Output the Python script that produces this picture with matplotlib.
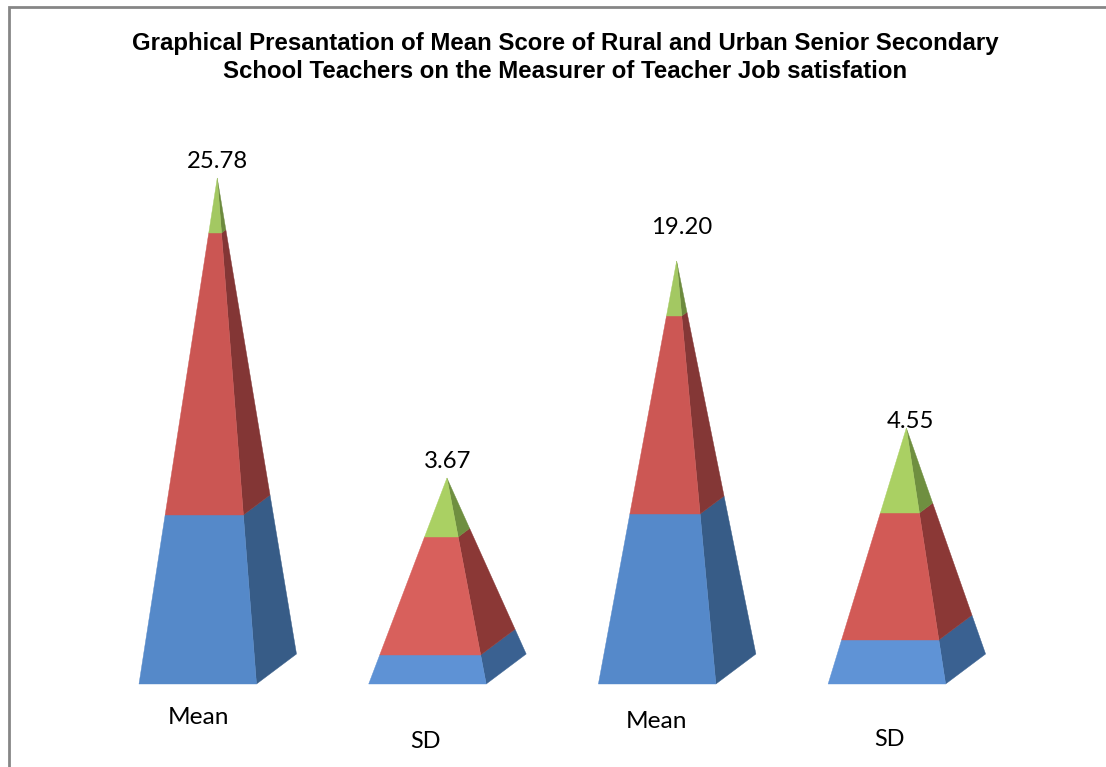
import matplotlib
matplotlib.use("Agg")
import matplotlib.pyplot as plt
from matplotlib.patches import Polygon, Rectangle

categories = ["Mean", "SD", "Mean", "SD"]
value_labels = ["25.78", "3.67", "19.20", "4.55"]
# stacked segment heights (axis units, baseline = 0)
blue_seg = [169, 29, 170, 44]
red_seg = [282, 118, 198, 127]
green_seg = [55, 59, 55, 85]

title = ("Graphical Presantation of Mean Score of Rural and Urban Senior Secondary\n"
         "School Teachers on the Measurer of Teacher Job satisfation")

W, H = 1106, 767
BASE_Y = 684       # baseline, pixels from top
LEFT = 139
STEP = 229.7
BAR_W = 117.5
DEPTH_X, DEPTH_Y = 40, 30

front = {"b": ["#5589C9", "#5E92D5", "#5589CA", "#5F93D6"],
         "r": ["#CB5653", "#D8605C", "#CC5754", "#D25A56"],
         "g": ["#A3C862", "#AAD063", "#A3C862", "#AAD063"]}
side = {"b": ["#375C87", "#3A6191", "#375C87", "#3A6191"],
        "r": ["#833635", "#8B3836", "#843736", "#8B3836"],
        "g": ["#6C8A3E", "#6F8F40", "#6C8A3E", "#6F8F40"]}

fig = plt.figure(figsize=(W / 100, H / 100), dpi=100)
ax = fig.add_axes([0, 0, 1, 1])
ax.set_xlim(0, W)
ax.set_ylim(BASE_Y - H, BASE_Y)
ax.axis("off")

# chart frame
ax.add_patch(Rectangle((9, BASE_Y - H - 5), W + 10, H - 2, fill=False,
                       edgecolor="#868686", lw=2, clip_on=True))

ax.text(565, BASE_Y - 57.5, title, ha="center", va="center", fontsize=17.3,
        fontweight="bold", family="Liberation Sans", linespacing=1.28, color="black")

label_x = [198.5, 425, 657, 889]
label_y = [-34, -58, -38, -55]
value_y = [522, 222, 457, 263]
value_x = [217, 448, 682, 910]

for i in range(len(categories)):
    x0 = LEFT + i * STEP
    x1 = x0 + BAR_W
    total = blue_seg[i] + red_seg[i] + green_seg[i]
    apex_x = (x0 + x1) / 2 + DEPTH_X / 2 - 0.5
    fl, fr = (x0, 0), (x1, 0)
    br = (x1 + DEPTH_X, DEPTH_Y)
    apex = (apex_x, total)

    def along(p, t):
        return (p[0] + (apex[0] - p[0]) * t, p[1] + (apex[1] - p[1]) * t)

    bottom = 0
    for key, seg in (("b", blue_seg[i]), ("r", red_seg[i]), ("g", green_seg[i])):
        t0 = bottom / total
        t1 = (bottom + seg) / total
        ax.add_patch(Polygon([along(fr, t0), along(br, t0), along(br, t1), along(fr, t1)],
                             closed=True, fc=side[key][i], ec=side[key][i], lw=0.3))
        ax.add_patch(Polygon([along(fl, t0), along(fr, t0), along(fr, t1), along(fl, t1)],
                             closed=True, fc=front[key][i], ec=front[key][i], lw=0.3))
        bottom += seg

    ax.text(value_x[i], value_y[i], value_labels[i], ha="center", va="center",
            fontsize=17.2, family="Lato", color="black")
    ax.text(label_x[i], label_y[i], categories[i], ha="center", va="center",
            fontsize=17.6 if categories[i] == "Mean" else 16.8, family="Lato", color="black")

fig.savefig("out.png", dpi=100, facecolor="white")
